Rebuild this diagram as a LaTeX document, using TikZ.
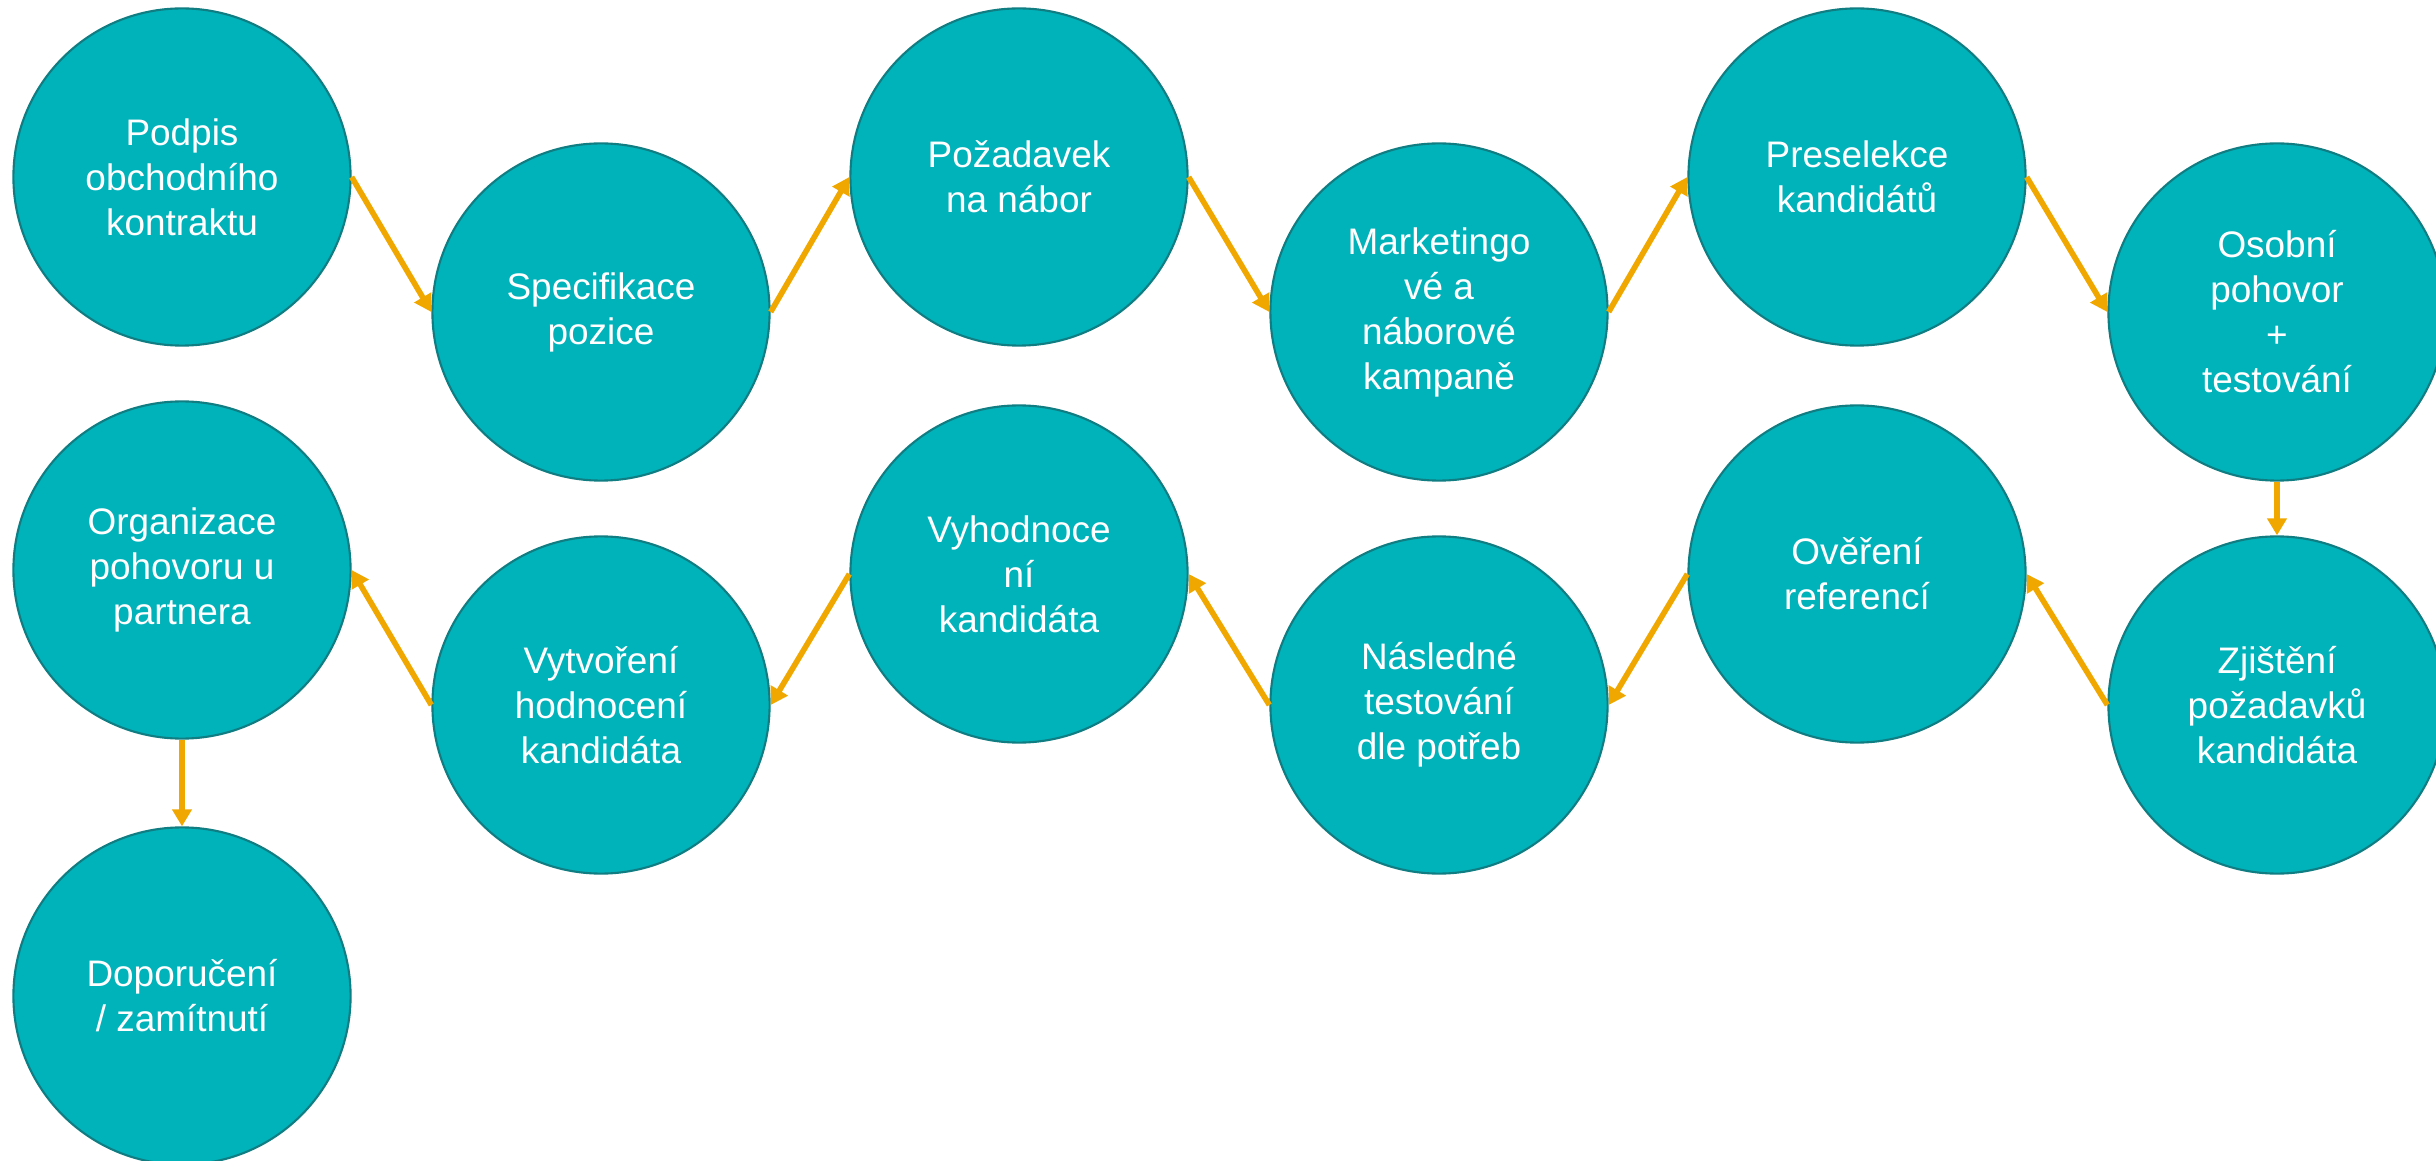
\documentclass[tikz,border=0pt]{standalone}
\usepackage{fontspec}
\setmainfont{Liberation Sans}
\usepackage{xcolor}
\usetikzlibrary{shapes,arrows.meta,positioning}
\definecolor{tealfill}{RGB}{0,178,186}
\definecolor{tealline}{RGB}{16,125,130}
\definecolor{flowline}{RGB}{240,168,0}
\tikzstyle{stepnode} = [circle, draw=tealline, line width=0.6pt, fill=tealfill, minimum size=3.37cm, inner sep=0pt, align=center, text=white, font=\fontsize{10.5}{12.8}\selectfont]
\tikzstyle{flow} = [draw=flowline, line width=1.6pt, -{Triangle[length=1.7mm,width=1.9mm]}]

\begin{document}
\begin{tikzpicture}[x=0.01cm, y=-0.01cm]
            \useasboundingbox (0,0) rectangle (2436,1161);
            \node[stepnode] (podpis) at (182,177) {Podpis\\obchodního\\kontraktu};
            \node[stepnode] (spec) at (601,312) {Specifikace\\pozice};
            \node[stepnode] (pozad) at (1019,177) {Požadavek\\na nábor};
            \node[stepnode] (market) at (1439,312) {Marketingo\\vé a\\náborové\\kampaně};
            \node[stepnode] (presel) at (1857,177) {Preselekce\\kandidátů};
            \node[stepnode] (osobni) at (2277,312) {Osobní\\pohovor\\+\\testování};
            \node[stepnode] (zjist) at (2277,705) {Zjištění\\požadavků\\kandidáta};
            \node[stepnode] (over) at (1857,574) {Ověření\\referencí};
            \node[stepnode] (nasled) at (1439,705) {Následné\\testování\\dle potřeb};
            \node[stepnode] (vyhod) at (1019,574) {Vyhodnoce\\ní\\kandidáta};
            \node[stepnode] (vytvor) at (601,705) {Vytvoření\\hodnocení\\kandidáta};
            \node[stepnode] (organ) at (182,570) {Organizace\\pohovoru u\\partnera};
            \node[stepnode] (dopor) at (182,996) {Doporučení\\/ zamítnutí};

            \draw[flow] (podpis.east) -- (spec.west);
            \draw[flow] (spec.east) -- (pozad.west);
            \draw[flow] (pozad.east) -- (market.west);
            \draw[flow] (market.east) -- (presel.west);
            \draw[flow] (presel.east) -- (osobni.west);
            \draw[flow] (osobni.south) -- (zjist.north);

            \draw[flow] (zjist.west) -- (over.east);
            \draw[flow] (over.west) -- (nasled.east);
            \draw[flow] (nasled.west) -- (vyhod.east);
            \draw[flow] (vyhod.west) -- (vytvor.east);
            \draw[flow] (vytvor.west) -- (organ.east);
            \draw[flow] (organ.south) -- (dopor.north);
\end{tikzpicture}
\end{document}
